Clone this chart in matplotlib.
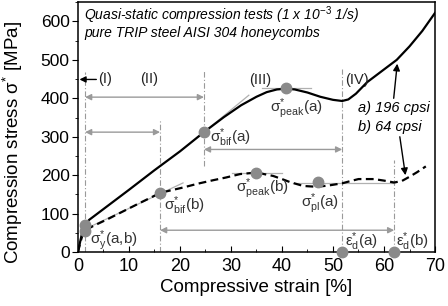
import matplotlib
matplotlib.use("Agg")
import matplotlib.pyplot as plt
from matplotlib.ticker import MultipleLocator

plt.rcParams['font.family'] = ['Liberation Sans', 'DejaVu Sans']
plt.rcParams['mathtext.fontset'] = 'custom'
plt.rcParams['mathtext.rm'] = 'Liberation Sans'
plt.rcParams['mathtext.it'] = 'Liberation Sans:italic'
plt.rcParams['mathtext.bf'] = 'Liberation Sans:bold'

# ---- data ----
strain_a = [0, 0.4, 0.9, 1.4, 2.2, 5, 10, 15, 20, 24.7, 28.6, 32, 35, 37, 39,
            40.8, 42.5, 45, 47.5, 50, 51.8, 53, 54.5, 56.7, 59.5, 62.5, 65,
            67.5, 70]
stress_a = [0, 25, 55, 72, 84, 112, 162, 213, 262, 312, 351, 382, 404, 416,
            423, 425, 423, 415, 404, 396, 393, 397, 412, 442, 470, 500, 535,
            575, 622]

strain_b = [0, 0.4, 0.9, 1.4, 3, 6, 9, 12, 14, 16.1, 18, 20.6, 23.5, 26.5,
            29, 31.8, 35, 38.3, 40, 41.6, 44.2, 46.8, 49, 51.8, 53.5, 55, 58,
            60, 62, 63.5, 65, 66.5, 68.2]
stress_b = [0, 22, 45, 57, 68, 87, 107, 127, 140, 154, 160, 168, 178, 187,
            194, 203, 207, 198, 190, 182, 172, 170, 173, 179, 185, 190, 190,
            186, 181, 185, 196, 208, 223]

# characteristic points
pt_x = [1.4, 1.4, 16.1, 24.7, 40.8, 35.0, 47.1, 51.8, 62.0]
pt_y = [70, 55, 153, 312, 426, 207, 182, 0, 0]

# vertical boundaries (strain, ymin, ymax)
vl_x = [1.4, 16.1, 24.7, 51.8, 62.0]
vl_ymin = [0, 0, 225, 0, 0]
vl_ymax = [468, 343, 470, 475, 240]

# double-headed span arrows (x0, x1, y)
span_x0 = [1.4, 1.4, 24.7, 16.1]
span_x1 = [24.7, 16.1, 51.8, 62.0]
span_y = [403, 312, 267, 57]

region_labels = ['(I)', '(II)', '(III)', '(IV)']
region_x = [3.9, 12.1, 33.6, 52.3]
region_y = [449, 449, 447, 447]

fig = plt.figure(figsize=(4.48, 3.06), dpi=100)
ax = fig.add_axes([0.174, 0.176, 0.971 - 0.174, 0.993 - 0.176])

gray = '#9a9a9a'
dotc = '#8a8a8a'
txtc = '#333333'

# vertical dash-dot lines
for x, y0, y1 in zip(vl_x, vl_ymin, vl_ymax):
    ax.plot([x, x], [y0, y1], color=gray, lw=0.8, ls=(0, (5, 2, 1, 2)), zorder=1)

# tangent / reference gray lines
ax.plot([24.7, 33.5], [312, 408], color='#b0b0b0', lw=0.9, zorder=1)
ax.plot([1.4, 20.6], [60, 180], color='#b0b0b0', lw=0.9, zorder=1)
ax.plot([36, 45.7], [426, 426], color='#b0b0b0', lw=0.9, zorder=1)
ax.plot([30.2, 40], [207, 207], color='#b0b0b0', lw=0.9, zorder=1)
ax.plot([42.2, 62], [181, 181], color='#b0b0b0', lw=0.9, zorder=1)

# span arrows
for x0, x1, y in zip(span_x0, span_x1, span_y):
    ax.annotate('', xy=(x1, y), xytext=(x0, y),
                arrowprops=dict(arrowstyle='<|-|>', color=gray, lw=1.0,
                                mutation_scale=9, shrinkA=0, shrinkB=0))

# curves
ax.plot(strain_a, stress_a, color='black', lw=1.6, zorder=3)
ax.plot(strain_b, stress_b, color='black', lw=1.6, ls=(0, (3.5, 2)), zorder=3)

# points
ax.plot(pt_x, pt_y, 'o', color=dotc, ms=7.5, mec=dotc, zorder=4, clip_on=False)

# region labels
for s, x, y in zip(region_labels, region_x, region_y):
    ax.text(x, y, s, fontsize=10.5, ha='left', va='center', color='#222222')
ax.annotate('', xy=(0.3, 449), xytext=(3.6, 449),
            arrowprops=dict(arrowstyle='-|>', color='black', lw=1.0,
                            mutation_scale=9, shrinkA=0, shrinkB=0))

# point labels
fs = 11
ax.text(2.3, 30, r'σ$^{*}_{\mathrm{y}}$(a,b)', fontsize=fs, color=txtc, ha='left', va='center')
ax.text(16.9, 120, r'σ$^{*}_{\mathrm{bif}}$(b)', fontsize=fs, color=txtc, ha='left', va='center')
ax.text(25.8, 298, r'σ$^{*}_{\mathrm{bif}}$(a)', fontsize=fs, color=txtc, ha='left', va='center')
ax.text(37.6, 374, r'σ$^{*}_{\mathrm{peak}}$(a)', fontsize=fs, color=txtc, ha='left', va='center')
ax.text(31.0, 166, r'σ$^{*}_{\mathrm{peak}}$(b)', fontsize=fs, color=txtc, ha='left', va='center')
ax.text(43.8, 127, r'σ$^{*}_{\mathrm{pl}}$(a)', fontsize=fs, color=txtc, ha='left', va='center')
ax.text(52.3, 26, r'ε$^{*}_{\mathrm{d}}$(a)', fontsize=fs, color=txtc, ha='left', va='center')
ax.text(62.4, 26, r'ε$^{*}_{\mathrm{d}}$(b)', fontsize=fs, color=txtc, ha='left', va='center')

# title text
ax.text(1.2, 615, r'Quasi-static compression tests (1 x 10$^{-3}$ 1/s)',
        fontsize=10, style='italic', ha='left', va='center')
ax.text(1.2, 571, 'pure TRIP steel AISI 304 honeycombs',
        fontsize=10, style='italic', ha='left', va='center')

# series legend
ax.text(55.0, 374, 'a) 196 cpsi', fontsize=10.5, style='italic', ha='left', va='center')
ax.text(55.0, 325, 'b) 64 cpsi', fontsize=10.5, style='italic', ha='left', va='center')
ax.annotate('', xy=(62.6, 490), xytext=(61.9, 400),
            arrowprops=dict(arrowstyle='-|>', color='black', lw=1.0,
                            mutation_scale=10, shrinkA=0, shrinkB=0))
ax.annotate('', xy=(64.2, 200), xytext=(63.1, 300),
            arrowprops=dict(arrowstyle='-|>', color='black', lw=1.0,
                            mutation_scale=10, shrinkA=0, shrinkB=0))

ax.set_xlim(0, 70)
ax.set_ylim(0, 650)
ax.xaxis.set_major_locator(MultipleLocator(10))
ax.xaxis.set_minor_locator(MultipleLocator(5))
ax.yaxis.set_major_locator(MultipleLocator(100))
ax.yaxis.set_minor_locator(MultipleLocator(50))
ax.set_yticks([0, 100, 200, 300, 400, 500, 600])
ax.tick_params(axis='x', which='major', direction='in', length=4, labelsize=13, pad=4)
ax.tick_params(axis='x', which='minor', direction='in', length=2.5)
ax.tick_params(axis='y', which='major', direction='out', length=4, labelsize=12.5, pad=2)
ax.tick_params(axis='y', which='minor', direction='out', length=2.5)
for sp in ax.spines.values():
    sp.set_linewidth(1.1)

ax.set_xlabel('Compressive strain [%]', fontsize=13.5, labelpad=3)
ax.set_ylabel(r'Compression stress σ$^{*}$ [MPa]', fontsize=13.5)
ax.yaxis.set_label_coords(-0.148, 0.44)

fig.savefig('out.png', dpi=100)
